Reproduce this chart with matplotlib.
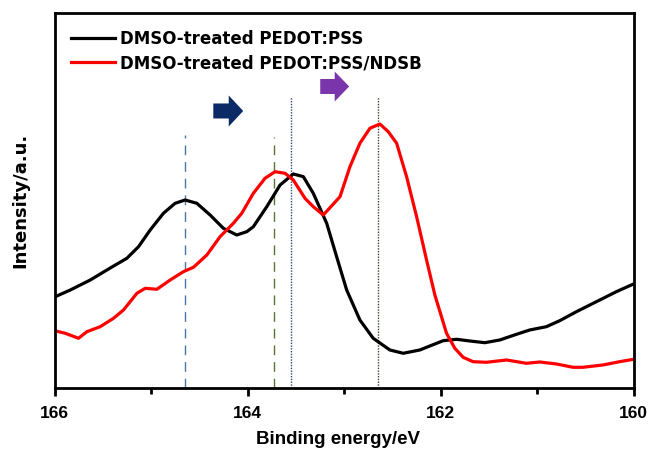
import matplotlib
matplotlib.use('Agg')
import matplotlib.pyplot as plt
from matplotlib.patches import FancyArrow

plt.rcParams['font.family'] = ['Liberation Sans', 'DejaVu Sans']
plt.rcParams['font.weight'] = 'bold'

# S 2p spectra (binding energy / eV, intensity a.u.)
e_black = [165.993, 165.837, 165.630, 165.423, 165.251, 165.130, 165.009, 164.872,
           164.751, 164.647, 164.526, 164.388, 164.251, 164.112, 164.008, 163.940,
           163.801, 163.663, 163.526, 163.422, 163.319, 163.180, 163.077, 162.973,
           162.836, 162.698, 162.525, 162.387, 162.215, 162.111, 161.973, 161.834,
           161.697, 161.541, 161.386, 161.213, 161.076, 160.903, 160.765, 160.592,
           160.385, 160.178, 160.0]
i_black = [91.3, 98, 108, 120, 129.7, 141.3, 158, 174.7,
           184.7, 188, 184.7, 173, 159.7, 153, 156.3, 161.3,
           181.3, 203, 214, 211.3, 194.7, 164.7, 131.3, 98,
           68, 49.7, 38, 34.7, 38, 42, 47.3, 48.7,
           47, 45.3, 48, 53.7, 58, 61.3, 67.3, 76.3,
           86.3, 96.3, 104]

e_red = [166.0, 165.889, 165.752, 165.665, 165.527, 165.389, 165.286, 165.147,
         165.061, 164.940, 164.802, 164.665, 164.561, 164.422, 164.285, 164.147,
         164.060, 163.940, 163.819, 163.715, 163.612, 163.526, 163.405, 163.319,
         163.215, 163.042, 162.939, 162.836, 162.732, 162.629, 162.542, 162.455,
         162.352, 162.248, 162.145, 162.059, 161.938, 161.852, 161.766, 161.663,
         161.524, 161.317, 161.110, 160.972, 160.799, 160.627, 160.524, 160.317,
         160.145, 160.0]
i_red = [57.3, 54.7, 49.7, 56.3, 61.3, 69.7, 78, 94.7,
         99.7, 98.7, 108, 116.3, 120.7, 133, 151.3, 164.7,
         174.7, 194.7, 209.7, 216.3, 214.7, 208, 189.7, 181.3,
         173, 191.3, 221.3, 244.7, 259.7, 264, 256.3, 244.7,
         211.3, 171.3, 128, 93, 54.7, 39.7, 30.7, 26.3,
         25.7, 28, 24.7, 26, 24, 20.7, 20.7, 23,
         26.3, 28.7]

labels = ['DMSO-treated PEDOT:PSS', 'DMSO-treated PEDOT:PSS/NDSB']

# peak markers: position, top, colour, style
peak_pos = [164.647, 163.723, 163.553, 162.652]
peak_top = [253, 251, 291, 291]
peak_col = ['#4a76a6', '#5a7438', '#2a4a80', '#3a4a2a']
peak_ls = [(0, (7, 5)), (0, (7, 5)), (0, (1, 1)), (0, (1, 1))]

fig = plt.figure(figsize=(6.52, 4.54), dpi=100)
ax = fig.add_axes([0.0837, 0.1454, 0.888, 0.826])

for p, t, c, s in zip(peak_pos, peak_top, peak_col, peak_ls):
    ax.plot([p, p], [0, t], color=c, lw=1.0, linestyle=s)

ax.plot(e_black, i_black, color='black', lw=2.3, label=labels[0])
ax.plot(e_red, i_red, color='#ff0000', lw=2.3, label=labels[1])

# shift arrows
ax.add_patch(FancyArrow(164.355, 277, -0.31, 0, width=15, head_width=31,
                        head_length=0.15, length_includes_head=True,
                        color='#0c2a66', lw=0))
ax.add_patch(FancyArrow(163.247, 301.5, -0.30, 0, width=15, head_width=30,
                        head_length=0.15, length_includes_head=True,
                        color='#7a35aa', lw=0))

ax.set_xlim(166, 160)
ax.set_ylim(0, 375)
ax.set_xticks([166, 164, 162, 160])
ax.set_xticks([165, 163, 161], minor=True)
ax.set_yticks([])
ax.tick_params(axis='x', which='major', direction='out', length=6, width=2,
               labelsize=12.5, pad=7)
ax.tick_params(axis='x', which='minor', direction='out', length=4, width=2)
for sp in ax.spines.values():
    sp.set_linewidth(2)

ax.set_xlabel('Binding energy/eV', fontsize=13.5, fontweight='bold')
ax.xaxis.set_label_coords(0.49, -0.115)
ax.set_ylabel('Intensity/a.u.', fontsize=13, fontweight='bold', labelpad=18,
              family='DejaVu Sans')

ax.legend(loc='upper left', bbox_to_anchor=(0.0, 1.0), frameon=False,
          handlelength=2.6, handletextpad=0.33, labelspacing=0.4,
          borderaxespad=0.6,
          prop={'weight': 'bold', 'size': 12, 'family': 'DejaVu Sans'})

fig.savefig('out.png', dpi=100)
